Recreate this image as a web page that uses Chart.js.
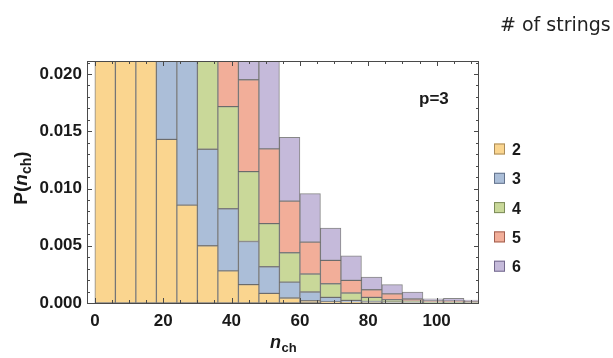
<!DOCTYPE html>
<html>
<head>
<meta charset="utf-8">
<script src="https://cdn.jsdelivr.net/npm/chart.js@4.4.1/dist/chart.umd.min.js"></script>
<style>
  html, body { margin: 0; padding: 0; background: #fff; }
  canvas { display: block; }
</style>
</head>
<body>
<canvas id="chart" width="613" height="358"></canvas>
<script>
// histogram bins of width 6 (centres), stacked by number of strings
const binCenters = [3, 9, 15, 21, 27, 33, 39, 45, 51, 57, 63, 69, 75, 81, 87, 93, 99, 105, 111];
const strings2 = [0.032, 0.030, 0.024, 0.0143, 0.00855, 0.0050, 0.0028, 0.0016, 0.00084, 0.00044, 0.0002, 0.0001, 0.00006, 0.00003, 0.00002, 0.00001, 0, 0, 0];
const strings3 = [0.001, 0.003, 0.006, 0.0095, 0.0135, 0.00843, 0.00543, 0.00377, 0.00233, 0.00139, 0.00076, 0.00039, 0.00017, 0.0001, 0.00006, 0.00004, 0.00002, 0.00001, 0.00001];
const strings4 = [0, 0.0003, 0.001, 0.003, 0.006, 0.0095, 0.00893, 0.00611, 0.00377, 0.00256, 0.00157, 0.00119, 0.00064, 0.00036, 0.0002, 0.0001, 0.00006, 0.00004, 0.00003];
const strings5 = [0, 0, 0.0002, 0.0008, 0.002, 0.004, 0.006, 0.00802, 0.00652, 0.00451, 0.00279, 0.00204, 0.0011, 0.00067, 0.00052, 0.0002, 0.0001, 0.00012, 0.00008];
const strings6 = [0, 0, 0, 0.0002, 0.0006, 0.0015, 0.003, 0.004, 0.009, 0.00558, 0.00424, 0.00282, 0.00215, 0.00111, 0.00081, 0.00061, 0.00018, 0.00024, 0.00013];

const seriesLabels = ["2", "3", "4", "5", "6"];
const seriesColors = ["rgb(250,213,143)", "rgb(171,190,216)", "rgb(201,216,153)", "rgb(242,174,153)", "rgb(197,186,218)"];
const legendEdges = ["rgb(170,140,90)", "rgb(100,115,140)", "rgb(125,140,90)", "rgb(160,95,80)", "rgb(115,105,140)"];

const xTicks = [0, 20, 40, 60, 80, 100];
const yTicks = [0, 0.005, 0.010, 0.015, 0.020];
const panelLabel = "p=3";
const legendTitle = "# of strings";

const FONT = "'Liberation Sans', Arial, sans-serif";
const INK = "#1a1a1a";
const FRAME = "#4a4a4a";

const allSeries = [strings2, strings3, strings4, strings5, strings6];

const datasets = allSeries.map((vals, i) => ({
  label: seriesLabels[i],
  data: vals.map((v, j) => ({ x: binCenters[j], y: v })),
  backgroundColor: seriesColors[i],
  borderColor: "rgba(55,55,55,0.6)",
  borderWidth: 1,
  borderSkipped: false,
  barPercentage: 1,
  categoryPercentage: 1,
}));

// frame with inward ticks, legend, titles
const decorations = {
  id: "decorations",
  afterDraw(chart) {
    const { ctx, chartArea: a, scales } = chart;
    const xs = scales.x, ys = scales.y;
    ctx.save();

    ctx.strokeStyle = FRAME;
    ctx.lineWidth = 1;
    ctx.strokeRect(a.left + 0.5, a.top + 0.5, a.right - a.left - 1, a.bottom - a.top);

    const major = 5, minor = 3;
    ctx.beginPath();
    for (let v = 0; v <= 110; v += 5) {
      const px = Math.round(xs.getPixelForValue(v)) + 0.5;
      const len = xTicks.includes(v) ? major : minor;
      ctx.moveTo(px, a.bottom); ctx.lineTo(px, a.bottom - len);
      ctx.moveTo(px, a.top); ctx.lineTo(px, a.top + len);
    }
    for (let k = 0; k <= 21; k++) {
      const v = k / 1000;
      const py = Math.round(ys.getPixelForValue(v)) + 0.5;
      const len = k % 5 === 0 ? major : minor;
      ctx.moveTo(a.left, py); ctx.lineTo(a.left + len, py);
      ctx.moveTo(a.right, py); ctx.lineTo(a.right - len, py);
    }
    ctx.stroke();

    ctx.fillStyle = INK;
    ctx.textBaseline = "alphabetic";

    // panel label
    ctx.font = "bold 17px " + FONT;
    ctx.textAlign = "left";
    ctx.fillText(panelLabel, 419, 104);

    // x axis title n_ch
    ctx.font = "italic bold 18px " + FONT;
    const nW = ctx.measureText("n").width;
    ctx.font = "bold 13px " + FONT;
    const chW = ctx.measureText("ch").width;
    const xStart = (a.left + a.right) / 2 - (nW + chW) / 2;
    ctx.font = "italic bold 18px " + FONT;
    ctx.fillText("n", xStart, 348);
    ctx.font = "bold 13px " + FONT;
    ctx.fillText("ch", xStart + nW + 0.5, 352);

    // y axis title P(n_ch)
    ctx.save();
    ctx.translate(27, 178);
    ctx.rotate(-Math.PI / 2);
    const parts = [
      ["P(", "bold 19px " + FONT, 0],
      ["n", "italic bold 19px " + FONT, 0],
      ["ch", "bold 14px " + FONT, 4],
      [")", "bold 19px " + FONT, 0],
    ];
    let total = 0;
    parts.forEach(p => { ctx.font = p[1]; total += ctx.measureText(p[0]).width; });
    let cx = -total / 2;
    parts.forEach(p => {
      ctx.font = p[1];
      ctx.fillText(p[0], cx, p[2]);
      cx += ctx.measureText(p[0]).width;
    });
    ctx.restore();

    // legend
    ctx.font = "bold 16px " + FONT;
    seriesLabels.forEach((lab, i) => {
      const cy = 149 + i * 29.3;
      ctx.fillStyle = seriesColors[i];
      ctx.fillRect(494, cy - 5.5, 11, 11);
      ctx.strokeStyle = legendEdges[i];
      ctx.strokeRect(494.5, cy - 5, 10, 10);
      ctx.fillStyle = INK;
      ctx.fillText(lab, 512, cy + 6);
    });

    // legend title
    ctx.font = "19px 'DejaVu Sans', sans-serif";
    ctx.fillStyle = "#222";
    ctx.fillText(legendTitle, 500, 31);

    ctx.restore();
  }
};

new Chart(document.getElementById("chart"), {
  type: "bar",
  data: { datasets },
  options: {
    responsive: false,
    animation: false,
    layout: { padding: { top: 61, right: 134, left: 0, bottom: 0 } },
    plugins: { legend: { display: false }, tooltip: { enabled: false } },
    scales: {
      x: {
        type: "linear",
        stacked: true,
        offset: false,
        min: -2.3,
        max: 112.4,
        grid: { display: false, drawTicks: false, offset: false },
        border: { display: false },
        afterBuildTicks: (s) => { s.ticks = xTicks.map(v => ({ value: v })); },
        afterFit: (s) => { s.height = 55; },
        ticks: { color: INK, padding: 8, maxRotation: 0, font: { family: FONT, size: 17, weight: "bold" } },
      },
      y: {
        stacked: true,
        min: 0,
        max: 0.02114,
        grid: { display: false, drawTicks: false },
        border: { display: false },
        afterBuildTicks: (s) => { s.ticks = yTicks.map(v => ({ value: v })); },
        afterFit: (s) => { s.width = 87; },
        ticks: {
          color: INK,
          padding: 5,
          callback: (v) => v.toFixed(3),
          font: { family: FONT, size: 17, weight: "bold" },
        },
      },
    },
  },
  plugins: [decorations],
});
</script>
</body>
</html>
